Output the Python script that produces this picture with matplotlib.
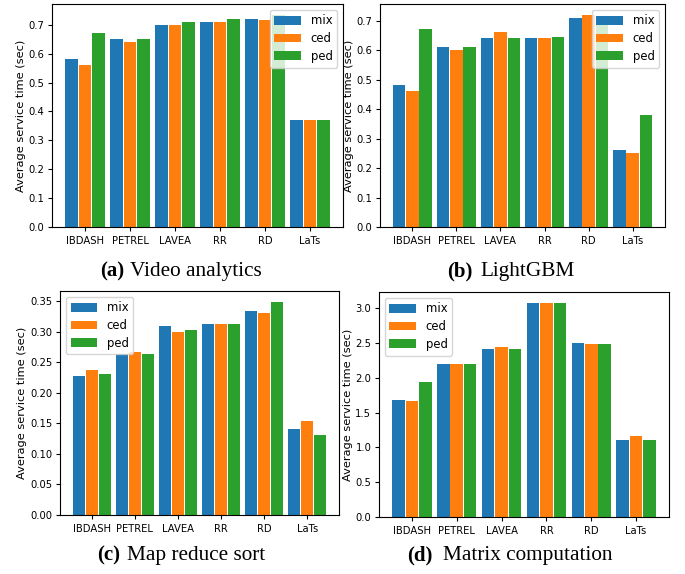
import numpy as np
import matplotlib
matplotlib.use("Agg")
import matplotlib.pyplot as plt
from matplotlib.ticker import FormatStrFormatter

# categories and series
methods = ['IBDASH', 'PETREL', 'LAVEA', 'RR', 'RD', 'LaTs']
series = ['mix', 'ced', 'ped']
colors = ['#1f77b4', '#ff7f0e', '#2ca02c']

# (a) Video analytics
video_mix = [0.58, 0.65, 0.70, 0.71, 0.72, 0.37]
video_ced = [0.56, 0.64, 0.698, 0.71, 0.715, 0.37]
video_ped = [0.67, 0.65, 0.71, 0.72, 0.735, 0.37]

# (b) LightGBM
gbm_mix = [0.48, 0.61, 0.64, 0.64, 0.71, 0.26]
gbm_ced = [0.46, 0.60, 0.66, 0.64, 0.72, 0.25]
gbm_ped = [0.67, 0.61, 0.64, 0.643, 0.69, 0.38]

# (c) Map reduce sort
sort_mix = [0.228, 0.264, 0.310, 0.313, 0.333, 0.140]
sort_ced = [0.238, 0.266, 0.300, 0.313, 0.330, 0.154]
sort_ped = [0.230, 0.264, 0.303, 0.313, 0.349, 0.131]

# (d) Matrix computation
matrix_mix = [1.68, 2.20, 2.41, 3.08, 2.50, 1.10]
matrix_ced = [1.67, 2.20, 2.44, 3.08, 2.48, 1.16]
matrix_ped = [1.94, 2.20, 2.42, 3.08, 2.48, 1.10]

fig = plt.figure(figsize=(6.85, 5.74), dpi=100)
W, H = 685, 574


def axes_px(left, top, right, bottom):
    # axes box given in pixel coords (top-left origin)
    return fig.add_axes([left / W, 1 - bottom / H, (right - left) / W, (bottom - top) / H])


panels = [
    (axes_px(52, 4, 343, 227), [video_mix, video_ced, video_ped], 'upper right'),
    (axes_px(380, 4, 665, 227), [gbm_mix, gbm_ced, gbm_ped], 'upper right'),
    (axes_px(60, 291, 339, 515), [sort_mix, sort_ced, sort_ped], 'upper left'),
    (axes_px(379, 292, 669, 517), [matrix_mix, matrix_ced, matrix_ped], 'upper left'),
]

x = np.arange(len(methods))
for ax, vals, loc in panels:
    for i, (name, v) in enumerate(zip(series, vals)):
        ax.bar(x + (i - 1) * 0.3, v, width=0.28, color=colors[i], label=name)
    ax.set_xticks(x)
    ax.set_xticklabels(methods, fontsize=7.2)
    ax.tick_params(axis='y', labelsize=7.2, length=3, pad=2.5)
    ax.tick_params(axis='x', length=3)
    ax.set_ylabel('Average service time (sec)', fontsize=8.2, labelpad=2)
    ax.legend(loc=loc, fontsize=8.4, handlelength=2.3, handleheight=0.75,
              labelspacing=0.4)

panels[2][0].yaxis.set_major_formatter(FormatStrFormatter('%.2f'))

# captions
captions = [
    ('(a)', 100, 'Video analytics', 130, 276),
    ('(b)', 447, 'LightGBM', 480, 276),
    ('(c)', 97, 'Map reduce sort', 127, 560),
    ('(d)', 407, 'Matrix computation', 443, 560),
]
for lab, lx, txt, tx, by in captions:
    fig.text(lx / W, 1 - by / H, lab, fontsize=15, fontweight='bold',
             family='Liberation Serif', ha='left', va='baseline')
    fig.text(tx / W, 1 - by / H, txt, fontsize=15.3,
             family='Liberation Serif', ha='left', va='baseline')

fig.savefig('out.png', dpi=100)
